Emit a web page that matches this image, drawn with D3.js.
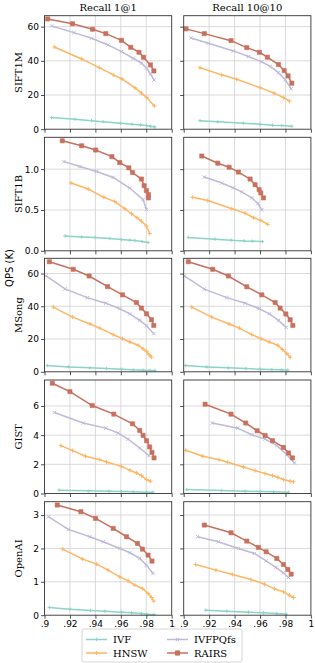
<!DOCTYPE html>
<html>
<head>
<meta charset="utf-8">
<script src="https://cdn.jsdelivr.net/npm/d3@7"></script>
<style>
  body { margin: 0; background: #fff; }
  text { fill: #000; }
</style>
</head>
<body>
<div id="chart"></div>
<script>
// Methods and datasets
const methods = ["IVF", "HNSW", "IVFPQfs", "RAIRS"];
const colors = ["#8dd3c7", "#ffb562", "#bebada", "#c8705e"];
const datasets = ["SIFT1M", "SIFT1B", "MSong", "GIST", "OpenAI"];
const recallTitles = ["Recall 1@1", "Recall 10@10"];
const xTicks = [0.9, 0.92, 0.94, 0.96, 0.98, 1.0];
const xTickLabels = [".9", ".92", ".94", ".96", ".98", "1"];
const yMax = [66.4, 1.39, 69.3, 7.78, 3.4];
const yTicks = [[0, 20, 40, 60], [0, 0.5, 1.0], [0, 20, 40, 60], [0, 2, 4, 6], [0, 1, 2, 3]];

// [recall, QPS (K)] per method, order = methods
const sift1m_r1 = [
  [[0.9056,6.8],[0.9239,5.8],[0.937,5.0],[0.9461,4.4],[0.9598,3.5],[0.9689,2.9],[0.9755,2.5],[0.9802,2.1],[0.9835,1.75],[0.9867,1.35]],
  [[0.9077,48.1],[0.9292,41.1],[0.943,36.0],[0.9545,31.6],[0.961,29.4],[0.9712,24.2],[0.9762,21.1],[0.9804,18.5],[0.9864,13.6]],
  [[0.9056,60.4],[0.9231,56.5],[0.937,53.2],[0.950,49.3],[0.9605,45.4],[0.9697,41.5],[0.9762,38.6],[0.9802,35.7],[0.9833,32.3],[0.9861,28.8]],
  [[0.9025,64.5],[0.922,61.7],[0.9378,58.5],[0.9482,55.9],[0.9605,52.0],[0.9678,47.9],[0.9743,45.0],[0.9778,42.1],[0.9833,37.6],[0.986,34.1]]
];
const sift1m_r10 = [
  [[0.9128,5.0],[0.9268,4.3],[0.9469,3.5],[0.9601,2.9],[0.9698,2.3],[0.9772,2.1],[0.985,1.75]],
  [[0.9128,36.0],[0.9299,31.8],[0.9417,29.2],[0.9601,24.3],[0.9711,21.1],[0.9784,18.5],[0.9831,16.5]],
  [[0.9057,53.4],[0.9194,50.3],[0.939,45.8],[0.9509,42.5],[0.9614,39.4],[0.968,36.7],[0.9745,33.1],[0.9798,28.9],[0.9845,23.6]],
  [[0.9018,58.7],[0.9162,55.9],[0.9372,51.8],[0.9496,47.7],[0.9595,45.0],[0.9658,42.1],[0.9745,37.8],[0.979,34.3],[0.9821,31.2],[0.985,26.9]]
];
const sift1b_r1 = [
  [[0.9161,0.182],[0.9292,0.170],[0.9396,0.163],[0.9514,0.150],[0.9605,0.138],[0.9671,0.130],[0.971,0.126],[0.9767,0.114],[0.9814,0.102]],
  [[0.9208,0.830],[0.9344,0.757],[0.9467,0.655],[0.9553,0.603],[0.9631,0.515],[0.9684,0.454],[0.9728,0.405],[0.9762,0.364],[0.9801,0.303],[0.9827,0.211]],
  [[0.9153,1.092],[0.9278,1.032],[0.9409,0.971],[0.954,0.898],[0.967,0.769],[0.9775,0.627],[0.9801,0.506]],
  [[0.914,1.347],[0.9292,1.286],[0.9402,1.234],[0.953,1.153],[0.9592,1.080],[0.9663,1.016],[0.9692,0.959],[0.9762,0.879],[0.9783,0.797],[0.9801,0.737],[0.9817,0.688],[0.9817,0.648]]
];
const sift1b_r10 = [
  [[0.9036,0.163],[0.9246,0.142],[0.9372,0.130],[0.9477,0.121],[0.954,0.118],[0.9619,0.114]],
  [[0.9068,0.655],[0.9189,0.615],[0.9378,0.515],[0.9483,0.461],[0.9548,0.405],[0.9606,0.373],[0.9661,0.324]],
  [[0.9162,0.903],[0.9299,0.830],[0.9391,0.769],[0.9457,0.721],[0.9535,0.648],[0.9583,0.579],[0.9614,0.502]],
  [[0.9142,1.161],[0.9268,1.073],[0.9357,1.024],[0.943,0.964],[0.9522,0.879],[0.9561,0.809],[0.9593,0.749],[0.9606,0.709],[0.9627,0.648]]
];
const msong_r1 = [
  [[0.9022,3.8],[0.9187,3.0],[0.9357,2.4],[0.9488,2.0],[0.9605,1.6],[0.9697,1.2],[0.9775,1.0],[0.9827,0.8],[0.9867,0.8]],
  [[0.9069,39.5],[0.9221,33.4],[0.9357,29.2],[0.9435,26.7],[0.954,22.7],[0.9613,20.2],[0.9671,18.2],[0.9736,16.2],[0.9775,14.0],[0.9802,12.5],[0.9822,10.5],[0.9841,8.9]],
  [[0.9012,58.5],[0.9161,50.6],[0.9336,45.3],[0.9482,41.9],[0.9592,38.5],[0.9671,35.4],[0.9749,31.4],[0.9802,28.1],[0.9859,23.3]],
  [[0.9038,67.2],[0.9226,62.6],[0.9351,58.5],[0.9496,52.0],[0.9613,47.0],[0.9723,42.3],[0.9762,38.9],[0.9802,35.4],[0.9841,31.8],[0.9859,28.3]]
];
const msong_r10 = [
  [[0.9016,3.8],[0.9181,3.0],[0.9351,2.4],[0.9488,2.0],[0.9601,1.6],[0.9693,1.4],[0.9772,1.2],[0.9819,1.0]],
  [[0.9063,39.5],[0.922,33.4],[0.9357,29.2],[0.9438,26.7],[0.9535,22.7],[0.9609,20.2],[0.9672,18.2],[0.974,16.2],[0.9776,13.6],[0.9811,11.1],[0.9837,8.9]],
  [[0.9005,58.5],[0.9162,50.5],[0.9339,45.3],[0.9483,41.9],[0.9595,38.5],[0.9674,35.4],[0.9745,31.4],[0.9806,27.1]],
  [[0.9036,67.2],[0.9228,62.6],[0.9351,58.5],[0.9496,51.9],[0.9614,47.0],[0.9719,42.3],[0.9758,38.9],[0.9803,35.3],[0.9837,31.8],[0.9858,28.3]]
];
const gist_r1 = [
  [[0.9114,0.23],[0.9344,0.18],[0.9508,0.16],[0.9605,0.14],[0.9697,0.12],[0.9802,0.09],[0.9853,0.09]],
  [[0.9129,3.28],[0.9221,2.94],[0.9323,2.55],[0.9435,2.32],[0.9488,2.16],[0.9605,1.86],[0.9671,1.59],[0.9723,1.41],[0.9762,1.23],[0.9802,0.96],[0.9833,0.84]],
  [[0.9077,5.55],[0.9304,4.83],[0.9482,4.48],[0.9579,4.14],[0.9657,3.73],[0.9749,3.12],[0.9822,2.59]],
  [[0.9061,7.56],[0.92,6.98],[0.9375,6.03],[0.9545,5.44],[0.9692,4.78],[0.9749,4.32],[0.9775,3.98],[0.9802,3.62],[0.9827,3.19],[0.9845,2.82],[0.9861,2.44]]
];
const gist_r10 = [
  [[0.9024,0.27],[0.9299,0.20],[0.9483,0.16],[0.9601,0.14],[0.9706,0.12],[0.9824,0.09]],
  [[0.9016,2.96],[0.915,2.55],[0.9278,2.32],[0.9346,2.14],[0.9469,1.82],[0.9561,1.57],[0.964,1.37],[0.9698,1.23],[0.974,1.11],[0.9784,0.96],[0.9837,0.84],[0.9863,0.80]],
  [[0.9225,4.83],[0.9425,4.48],[0.9535,4.03],[0.964,3.73],[0.9732,3.28],[0.9811,2.66],[0.9871,2.10]],
  [[0.9168,6.12],[0.9372,5.44],[0.9488,4.83],[0.9577,4.30],[0.964,3.98],[0.9698,3.62],[0.9784,3.16],[0.9824,2.78],[0.9855,2.44]]
];
const openai_r1 = [
  [[0.9038,0.23],[0.92,0.18],[0.9362,0.14],[0.9475,0.12],[0.9605,0.09],[0.9684,0.07],[0.9762,0.05],[0.9806,0.03],[0.9861,0.02]],
  [[0.9143,1.98],[0.93,1.68],[0.941,1.53],[0.95,1.35],[0.9592,1.15],[0.9657,1.03],[0.971,0.90],[0.977,0.80],[0.9814,0.65],[0.9841,0.53],[0.9859,0.42]],
  [[0.903,2.95],[0.9187,2.57],[0.9357,2.35],[0.9461,2.20],[0.9592,2.00],[0.9671,1.87],[0.9749,1.70],[0.9802,1.50],[0.9853,1.25]],
  [[0.91,3.30],[0.9286,3.10],[0.9402,2.90],[0.954,2.60],[0.9645,2.35],[0.9731,2.15],[0.977,1.98],[0.9814,1.80],[0.9845,1.62]]
];
const openai_r10 = [
  [[0.9173,0.15],[0.9339,0.12],[0.9509,0.09],[0.9627,0.07],[0.9732,0.05],[0.9806,0.03]],
  [[0.9094,1.52],[0.9254,1.35],[0.9383,1.22],[0.9528,1.07],[0.9635,0.93],[0.9713,0.79],[0.9784,0.70],[0.9831,0.60],[0.9863,0.53]],
  [[0.911,2.35],[0.9272,2.20],[0.943,2.00],[0.9556,1.85],[0.9648,1.63],[0.9724,1.43],[0.9784,1.27],[0.9824,1.13]],
  [[0.9162,2.70],[0.9372,2.47],[0.9496,2.22],[0.9587,2.03],[0.9648,1.90],[0.9732,1.70],[0.9784,1.52],[0.9819,1.37],[0.9845,1.23]]
];
const panels = [
  [sift1m_r1, sift1m_r10],
  [sift1b_r1, sift1b_r10],
  [msong_r1, msong_r10],
  [gist_r1, gist_r10],
  [openai_r1, openai_r10]
];

// Layout
const W = 315, H = 663;
const colX = [44.5, 183.7], panelW = 127.2;
const rowTop = [15.7, 137.3, 258.3, 380, 501.7], panelH = 113.5;
const serif = "'DejaVu Serif', serif", sans = "'DejaVu Sans', sans-serif";

const svg = d3.select("#chart").append("svg")
  .attr("width", W).attr("height", H);

// Marker path per method
function markerPath(m) {
  if (m === "RAIRS") return "M-2.1,-2.1H2.1V2.1H-2.1Z";
  if (m === "IVFPQfs") return "M-1.7,-1.7L1.7,1.7M-1.7,1.7L1.7,-1.7";
  if (m === "HNSW") return "M-2.1,0H2.1M0,-2.1V2.1";
  return "M-1.7,0H1.7M0,-1.7V1.7";
}

panels.forEach((row, ri) => {
  row.forEach((series, ci) => {
    const g = svg.append("g")
      .attr("transform", `translate(${colX[ci]},${rowTop[ri]})`);
    const x = d3.scaleLinear().domain([0.9, 1.0]).range([0, panelW]);
    const y = d3.scaleLinear().domain([0, yMax[ri]]).range([panelH, 0]);

    // grid
    g.append("g").selectAll("line").data(xTicks.slice(1, -1)).join("line")
      .attr("x1", d => x(d)).attr("x2", d => x(d))
      .attr("y1", 0).attr("y2", panelH)
      .attr("stroke", "#d0d0d0").attr("stroke-width", 0.8);
    g.append("g").selectAll("line").data(yTicks[ri].slice(1)).join("line")
      .attr("x1", 0).attr("x2", panelW)
      .attr("y1", d => y(d)).attr("y2", d => y(d))
      .attr("stroke", "#d0d0d0").attr("stroke-width", 0.8);

    // series
    series.forEach((pts, mi) => {
      const m = methods[mi];
      g.append("path")
        .datum(pts)
        .attr("fill", "none")
        .attr("stroke", colors[mi])
        .attr("stroke-width", 1.5)
        .attr("d", d3.line().x(d => x(d[0])).y(d => y(d[1])));
      g.append("g").selectAll("path").data(pts).join("path")
        .attr("transform", d => `translate(${x(d[0])},${y(d[1])})`)
        .attr("d", markerPath(m))
        .attr("fill", m === "RAIRS" ? colors[mi] : "none")
        .attr("stroke", colors[mi])
        .attr("stroke-width", m === "RAIRS" ? 0.6 : 1);
    });

    // axes
    const xAxis = d3.axisBottom(x).tickValues(xTicks).tickSize(3.5).tickPadding(2)
      .tickFormat((d, i) => ri === panels.length - 1 ? xTickLabels[i] : "");
    const yAxis = d3.axisLeft(y).tickValues(yTicks[ri]).tickSize(3.5).tickPadding(2)
      .tickFormat(d => ci === 0 ? (ri === 1 ? d3.format(".1f")(d) : d) : "");
    const xa = g.append("g").attr("transform", `translate(0,${panelH})`).call(xAxis);
    const ya = g.append("g").call(yAxis);
    [xa, ya].forEach(a => {
      a.select(".domain").remove();
      a.selectAll("line").attr("stroke", "#222").attr("stroke-width", 0.8);
      a.selectAll("text").attr("font-family", sans).attr("font-size", 9).attr("fill", "#000");
    });

    // frame
    g.append("rect")
      .attr("width", panelW).attr("height", panelH)
      .attr("fill", "none").attr("stroke", "#333").attr("stroke-width", 0.9);

    if (ri === 0) {
      g.append("text")
        .attr("x", panelW / 2).attr("y", -5)
        .attr("text-anchor", "middle")
        .attr("font-family", serif).attr("font-size", 10)
        .text(recallTitles[ci]);
    }
    if (ci === 0) {
      g.append("text")
        .attr("transform", `translate(-22.5,${panelH / 2}) rotate(-90)`)
        .attr("text-anchor", "middle")
        .attr("font-family", serif).attr("font-size", 10)
        .text(datasets[ri]);
    }
  });
});

// shared y label
svg.append("text")
  .attr("transform", `translate(12.5,268) rotate(-90)`)
  .attr("text-anchor", "middle")
  .attr("font-family", sans).attr("font-size", 10)
  .text("QPS (K)");

// legend
const lg = svg.append("g").attr("transform", "translate(82,629)");
lg.append("rect")
  .attr("width", 160).attr("height", 33).attr("rx", 2)
  .attr("fill", "#fff").attr("stroke", "#ccc").attr("stroke-width", 0.8);
const legendPos = [[4, 10.5], [4, 24], [85, 10.5], [85, 24]];
methods.forEach((m, i) => {
  const [lx, ly] = legendPos[i];
  const it = lg.append("g").attr("transform", `translate(${lx},${ly})`);
  it.append("line").attr("x1", 0).attr("x2", 21)
    .attr("stroke", colors[i]).attr("stroke-width", 1.5);
  it.append("path").attr("transform", "translate(10.5,0)")
    .attr("d", markerPath(m))
    .attr("fill", m === "RAIRS" ? colors[i] : "none")
    .attr("stroke", colors[i]).attr("stroke-width", 1);
  it.append("text").attr("x", 27).attr("y", 3.5)
    .attr("font-family", serif).attr("font-size", 10)
    .text(m);
});
</script>
</body>
</html>
